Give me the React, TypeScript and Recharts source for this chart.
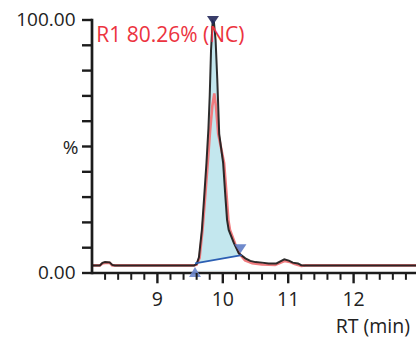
import React from 'react';
import { Area, ComposedChart, Label, Line, Scatter, XAxis, YAxis } from 'recharts';

// main trace (black): t = RT (min), v = %
const blackTrace = [
  { t: 8.0, v: 3.0 }, { t: 8.12, v: 3.0 }, { t: 8.16, v: 4.0 }, { t: 8.2, v: 4.3 },
  { t: 8.27, v: 4.2 }, { t: 8.31, v: 3.2 }, { t: 8.35, v: 3.0 }, { t: 9.56, v: 3.0 },
  { t: 9.6, v: 3.5 }, { t: 9.635, v: 6.2 }, { t: 9.68, v: 17 }, { t: 9.715, v: 30 },
  { t: 9.75, v: 43.5 }, { t: 9.78, v: 57 }, { t: 9.8, v: 70 }, { t: 9.82, v: 88 },
  { t: 9.845, v: 99.5 }, { t: 9.865, v: 99 }, { t: 9.89, v: 92 }, { t: 9.915, v: 77 },
  { t: 9.945, v: 55 }, { t: 10.005, v: 43.5 }, { t: 10.04, v: 30 }, { t: 10.065, v: 21 },
  { t: 10.09, v: 17 }, { t: 10.17, v: 11.8 }, { t: 10.245, v: 7.8 }, { t: 10.345, v: 5.8 },
  { t: 10.42, v: 4.8 }, { t: 10.5, v: 4.3 }, { t: 10.6, v: 4.1 }, { t: 10.7, v: 3.8 },
  { t: 10.82, v: 3.8 }, { t: 10.88, v: 4.6 }, { t: 10.94, v: 5.4 }, { t: 11.01, v: 4.9 },
  { t: 11.07, v: 4.1 }, { t: 11.15, v: 3.8 }, { t: 11.2, v: 3.1 }, { t: 11.25, v: 3.0 },
  { t: 13.0, v: 3.0 },
];

// second trace (red)
const redTrace = [
  { t: 8.0, v: 3.0 }, { t: 8.12, v: 3.0 }, { t: 8.16, v: 3.8 }, { t: 8.2, v: 4.0 },
  { t: 8.27, v: 4.0 }, { t: 8.31, v: 3.0 }, { t: 9.56, v: 3.0 }, { t: 9.6, v: 3.3 },
  { t: 9.645, v: 6 }, { t: 9.69, v: 17 }, { t: 9.73, v: 30 }, { t: 9.77, v: 43.5 },
  { t: 9.805, v: 56 }, { t: 9.84, v: 66 }, { t: 9.87, v: 71 }, { t: 9.895, v: 66 },
  { t: 9.93, v: 55 }, { t: 10.02, v: 43.5 }, { t: 10.06, v: 30 }, { t: 10.085, v: 21 },
  { t: 10.11, v: 17 }, { t: 10.19, v: 11.5 }, { t: 10.26, v: 7.4 }, { t: 10.34, v: 5.0 },
  { t: 10.45, v: 3.9 }, { t: 10.6, v: 3.4 }, { t: 10.8, v: 3.2 }, { t: 10.88, v: 4.0 },
  { t: 10.95, v: 4.8 }, { t: 11.02, v: 4.4 }, { t: 11.1, v: 3.5 }, { t: 11.2, v: 2.8 },
  { t: 11.27, v: 3.0 }, { t: 13.0, v: 3.0 },
];

// integration baseline of peak R1
const peakBaseline = [
  { t: 9.575, v: 3.8 },
  { t: 10.29, v: 7.1 },
];

// peak start / apex / end markers
const markers = [
  { t: 9.575, v: 2.4, dir: 'up', color: '#6b86cc' },
  { t: 9.85, v: 98, dir: 'down', color: '#23285a' },
  { t: 10.27, v: 7.8, dir: 'down', color: '#5f7dc6' },
];

const xTicks = [
  8.2, 8.4, 8.6, 8.8, 9, 9.2, 9.4, 9.6, 9.8, 10, 10.2, 10.4, 10.6, 10.8,
  11, 11.2, 11.4, 11.6, 11.8, 12, 12.2, 12.4, 12.6, 12.8,
];
const yTicks = [0, 10, 20, 30, 40, 50, 60, 70, 80, 90, 100];
const yTickLabels: Record<number, string> = { 0: '0.00', 50: '%', 100: '100.00' };

const peakLabel = 'R1 80.26% (NC)';
const xTitle = 'RT (min)';

const font = "'Open Sans', sans-serif";
const ink = '#1c1c1c';

const fillData = blackTrace.filter(p => p.t >= 9.57 && p.t <= 10.3);

const XTick = ({ x, y, payload }: any) => {
  const major = Number.isInteger(payload.value);
  return (
    <g>
      <line x1={x} y1={y} x2={x} y2={y + (major ? 10.3 : 6.8)} stroke={ink} strokeWidth={major ? 2.4 : 2} />
      {major && (
        <text x={x} y={y + 33} textAnchor="middle" fontFamily={font} fontSize={19.5} fill="#222">
          {payload.value}
        </text>
      )}
    </g>
  );
};

const YTick = ({ x, y, payload }: any) => {
  const label = yTickLabels[payload.value];
  const isPct = label === '%';
  return (
    <g>
      <line x1={x - 10} y1={y} x2={x} y2={y} stroke={ink} strokeWidth={2.4} />
      {label && (
        <text x={x - (isPct ? 13.5 : 16.5)} y={y + (isPct ? 7.5 : 6.2)} textAnchor="end" fontFamily={font} fontSize={19} fill="#222">
          {label}
        </text>
      )}
    </g>
  );
};

const Triangle = ({ cx, cy, payload }: any) => {
  const h = payload.dir === 'up' ? 10 : -9;
  return (
    <polygon
      points={`${cx},${cy} ${cx - 6},${cy + h} ${cx + 6},${cy + h}`}
      fill={payload.color}
      fillOpacity={0.9}
    />
  );
};

export default function App() {
  return (
    <div style={{ position: 'absolute', left: 0, top: 0, width: 416, height: 339, overflow: 'hidden' }}>
      <ComposedChart width={419} height={339} margin={{ top: 20, right: 0, bottom: 0, left: 0 }}>
        <XAxis
          dataKey="t"
          type="number"
          domain={[8, 13]}
          ticks={xTicks}
          interval={0}
          height={66}
          tickSize={0}
          tickMargin={0}
          tickLine={false}
          tick={<XTick />}
          axisLine={{ stroke: ink, strokeWidth: 2.7 }}
        >
          <Label
            content={({ viewBox }: any) => (
              <text
                x={viewBox.x + viewBox.width - 9}
                y={viewBox.y + 60}
                textAnchor="end"
                fontFamily={font}
                fontSize={19.5}
                fill="#222"
              >
                {xTitle}
              </text>
            )}
          />
        </XAxis>
        <YAxis
          type="number"
          domain={[0, 100]}
          ticks={yTicks}
          interval={0}
          width={92}
          tickSize={0}
          tickMargin={0}
          tickLine={false}
          tick={<YTick />}
          axisLine={{ stroke: ink, strokeWidth: 2.7, strokeLinecap: 'square' }}
        >
          <Label
            content={({ viewBox }: any) => (
              <text
                x={viewBox.x + viewBox.width + 4.3}
                y={viewBox.y + 21.5}
                fontFamily={font}
                fontSize={21}
                fill="#ec3340"
              >
                {peakLabel}
              </text>
            )}
          />
        </YAxis>
        <Area data={fillData} dataKey="v" type="linear" baseValue={1} fill="#c3e7ee" fillOpacity={1} stroke="none" isAnimationActive={false} />
        <Area data={peakBaseline} dataKey="v" type="linear" baseValue={1} fill="#ffffff" fillOpacity={1} stroke="none" isAnimationActive={false} />
        <Line data={redTrace} dataKey="v" type="linear" stroke="#f07b7e" strokeWidth={2.6} dot={false} isAnimationActive={false} />
        <Line data={blackTrace} dataKey="v" type="linear" stroke={ink} strokeWidth={2} strokeOpacity={0.92} dot={false} isAnimationActive={false} />
        <Line data={peakBaseline} dataKey="v" type="linear" stroke="#2c5fb3" strokeWidth={1.8} dot={false} isAnimationActive={false} />
        <Scatter data={markers} dataKey="v" shape={<Triangle />} isAnimationActive={false} />
      </ComposedChart>
    </div>
  );
}
